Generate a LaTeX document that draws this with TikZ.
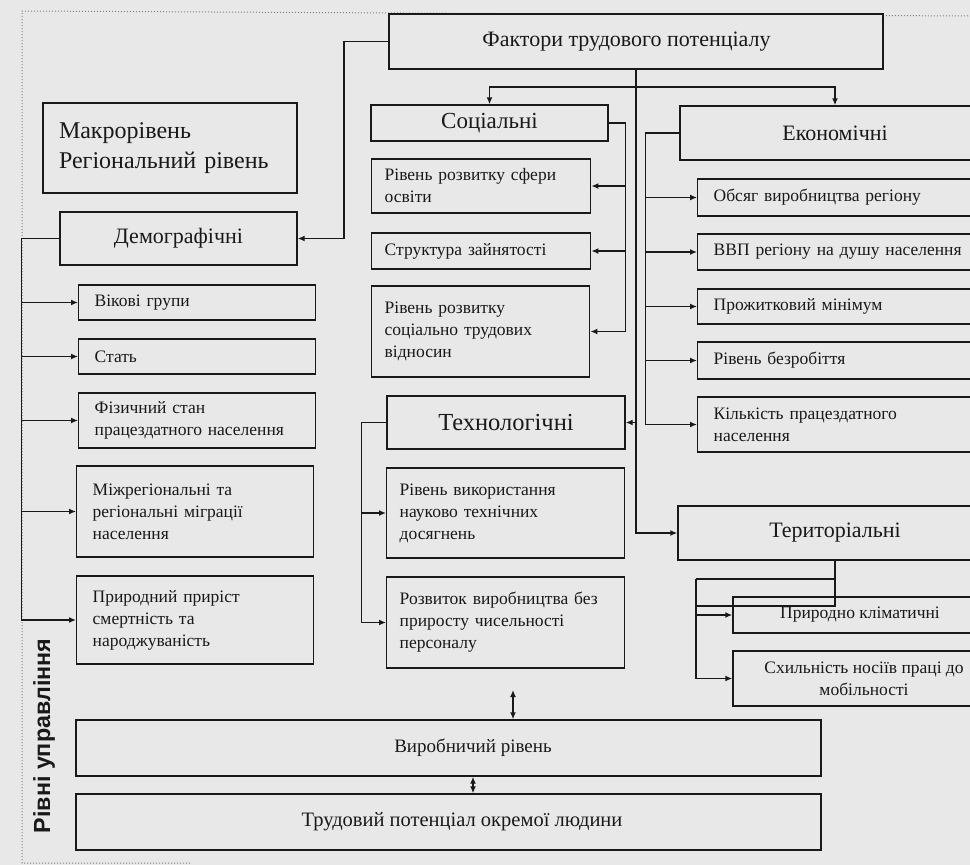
\documentclass[tikz,border=0pt]{standalone}
\usepackage{fontspec}
\setmainfont{Liberation Serif}
\newfontfamily\sansbold{Liberation Sans}
\usetikzlibrary{arrows.meta,calc,positioning}
\definecolor{paper}{RGB}{232,232,232}
\definecolor{ink}{RGB}{25,25,25}

\begin{document}
\begin{tikzpicture}[x=1pt, y=-1pt, >={Latex[length=7pt,width=6pt]},
  box/.style={draw=ink, line width=1.4pt, fill=paper, text=ink, inner sep=0pt},
  big/.style={box, font=\fontsize{22}{25}\selectfont, align=center},
  small/.style={box, font=\fontsize{17.5}{22}\selectfont, align=left, inner xsep=13pt, anchor=west},
  wide/.style={small, inner xsep=16pt},
  link/.style={draw=ink, line width=1.4pt}]
  \useasboundingbox (0,0) rectangle (970,865);
  \fill[paper] (0,0) rectangle (970,865);
  \clip (0,0) rectangle (970,865);
  \draw[gray, dotted, line width=1pt] (190,863) -- (22,863) -- (22,11) -- (970,16);

  \node[big, minimum width=494, minimum height=55] (fakt) at (636,41.5) {Фактори трудового потенціалу\hspace*{19pt}};
  \node[box, font=\fontsize{24}{30}\selectfont, align=left, text width=222, minimum width=254, minimum height=90] (macro) at (170,148) {Макрорівень\\Регіональний рівень};
  \node[rotate=90, text=ink, font=\sansbold\bfseries\fontsize{23.3}{25}\selectfont] (rivni) at (44,736) {Рівні управління};

  \node[big, minimum width=237, minimum height=53] (demo) at (178.5,238.5) {Демографічні};
  \node[wide, text width=205, minimum height=35] (vik) at (78,302.5) {Вікові групи};
  \node[wide, text width=205, minimum height=35] (stat) at (78,356.5) {Стать};
  \node[wide, text width=205, minimum height=55] (fiz) at (78,420.5) {Фізичний стан\\працездатного населення};
  \node[wide, text width=205, minimum height=91] (mig) at (76,511.5) {Міжрегіональні та\\регіональні міграції\\населення};
  \node[wide, text width=205, minimum height=88] (pryr) at (76,620) {Природний приріст\\смертність та\\народжуваність};

  \node[big, font=\fontsize{23}{25}\selectfont, minimum width=237, minimum height=36] (soc) at (489.5,123) {Соціальні};
  \node[small, text width=193, minimum height=54] (osv) at (371,186) {Рівень розвитку сфери\\освіти};
  \node[small, text width=193, minimum height=36] (zayn) at (371,251) {Структура зайнятості};
  \node[small, text width=192, minimum height=91] (vidn) at (371,331.5) {Рівень розвитку\\соціально трудових\\відносин};

  \node[big, font=\fontsize{24.5}{27}\selectfont, minimum width=238, minimum height=53] (tech) at (506,422.5) {Технологічні};
  \node[small, text width=212, minimum height=90] (nauk) at (386,513) {Рівень використання\\науково технічних\\досягнень};
  \node[small, text width=212, minimum height=91] (rozv) at (386,622.5) {Розвиток виробництва без\\приросту чисельності\\персоналу};

  \node[big, minimum width=310, minimum height=54] (ekon) at (835,133) {Економічні};
  \node[wide, text width=281, minimum height=37] (obs) at (697,197.5) {Обсяг виробництва регіону};
  \node[wide, text width=281, minimum height=36] (vvp) at (697,252) {ВВП регіону на душу населення};
  \node[wide, text width=281, minimum height=35] (prozh) at (697,306.5) {Прожитковий мінімум};
  \node[wide, text width=281, minimum height=37] (bezr) at (697,360.5) {Рівень безробіття};
  \node[wide, text width=281, minimum height=55] (kilk) at (697,424.5) {Кількість працездатного\\населення};

  \node[big, minimum width=314, minimum height=54] (ter) at (835,533) {Територіальні};
  \node[box, font=\fontsize{17.5}{22}\selectfont, minimum width=254, minimum height=36] (klim) at (860,615) {Природно кліматичні};
  \node[box, font=\fontsize{17.5}{22}\selectfont, align=center, minimum width=262, minimum height=55] (mob) at (864,678.5) {Схильність носіїв праці до\\мобільності};

  \node[big, font=\fontsize{19}{22}\selectfont, minimum width=745, minimum height=56] (vyr) at (448.5,748) {\hspace*{49pt}Виробничий рівень};
  \node[big, font=\fontsize{20.5}{23}\selectfont, minimum width=745, minimum height=56] (trud) at (448.5,822) {\hspace*{27pt}Трудовий потенціал окремої людини};

  \coordinate (dj) at (344,238.5);
  \draw[link,->] (fakt.west) -| (dj) -- (demo.east);
  \draw[link,->] (demo.west) -- ++(-38,0) coordinate (lb) |- (pryr.west);
  \foreach \n in {vik,stat,fiz,mig}
    \draw[link,->] (lb |- \n.west) -- (\n.west);

  \coordinate (split) at (636,87);
  \draw[link] (fakt.south) -- (split);
  \draw[link,->] (split) -| (soc.north);
  \draw[link,->] (split) -| (ekon.north);
  \draw[link,->] (split) |- (ter.west);
  \draw[link,->] (split |- tech.east) -- (tech.east);

  \draw[link,->] (soc.east) -- ++(17,0) coordinate (sb) |- (vidn.east);
  \foreach \n in {osv,zayn}
    \draw[link,->] (sb |- \n.east) -- (\n.east);

  \draw[link,->] (ekon.west) -- ++(-34,0) coordinate (eb) |- (kilk.west);
  \foreach \n in {obs,vvp,prozh,bezr}
    \draw[link,->] (eb |- \n.west) -- (\n.west);

  \draw[link,->] (tech.west) -- ++(-25,0) coordinate (tb) |- (rozv.west);
  \draw[link,->] (tb |- nauk.west) -- (nauk.west);

  \coordinate (tl) at (696,579);
  \coordinate (tr) at (696,606);
  \draw[link] (ter.south) |- (tr);
  \draw[link] (ter.south |- tl) -- (tl);
  \draw[link,->] (tl) |- (mob.west);
  \draw[link,->] (tl |- klim.west) -- (klim.west);

  \coordinate (ua) at (513,690);
  \draw[link,<->] (ua) -- (ua |- vyr.north);
  \draw[link,<->] ([xshift=24.5pt]vyr.south) -- ([xshift=24.5pt]trud.north);
\end{tikzpicture}
\end{document}
